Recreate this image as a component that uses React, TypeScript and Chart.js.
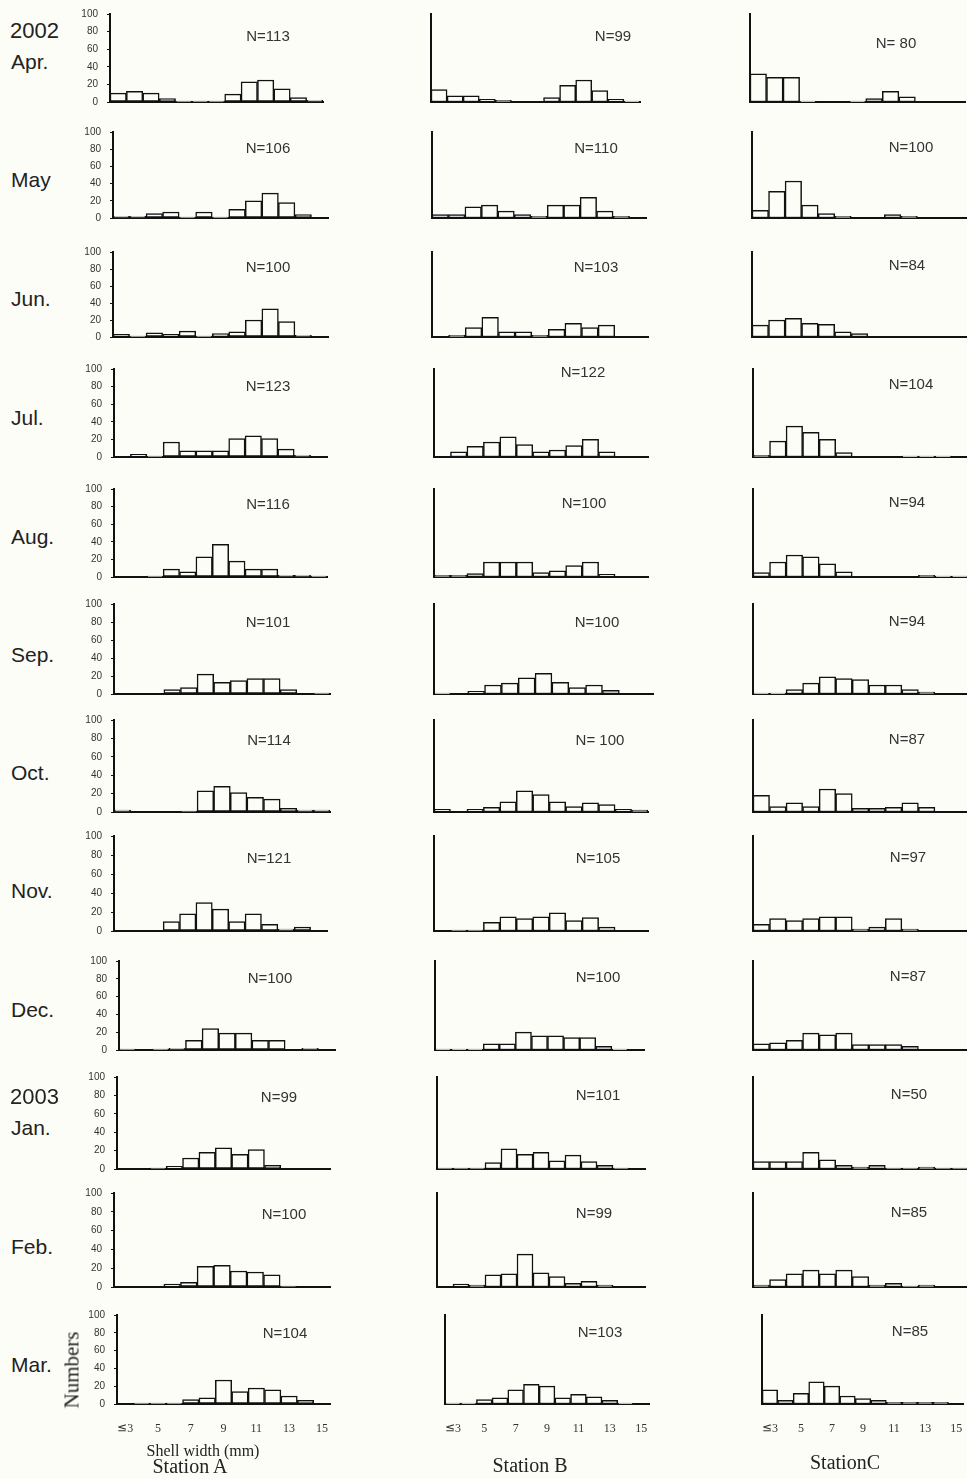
import React, { useEffect, useRef } from "react";
import { Chart, registerables } from "chart.js";

Chart.register(...registerables);

// ---- data ----
const sizeBins = ["≦3", "4", "5", "6", "7", "8", "9", "10", "11", "12", "13", "14", "15"];
const shownSizeTicks = ["≦3", "5", "7", "9", "11", "13", "15"];
const monthLabels = ["Apr.", "May", "Jun.", "Jul.", "Aug.", "Sep.", "Oct.", "Nov.", "Dec.", "Jan.", "Feb.", "Mar."];
const yearLabels = ["2002", "", "", "", "", "", "", "", "", "2003", "", ""];
const stationNames = ["Station A", "Station B", "StationC"];

const stationA = [
  [10, 12, 10, 4, 1, 1, 1, 9, 23, 25, 15, 5, 2],
  [2, 2, 5, 7, 1, 7, 1, 10, 20, 29, 18, 4, 0],
  [3, 1, 5, 3, 7, 1, 4, 6, 20, 33, 18, 2, 0],
  [0, 3, 1, 17, 7, 7, 7, 21, 24, 21, 9, 2, 0],
  [0, 0, 1, 9, 6, 23, 37, 18, 9, 9, 2, 2, 1],
  [0, 0, 0, 5, 7, 22, 13, 15, 17, 17, 5, 0, 1],
  [2, 0, 0, 0, 1, 23, 28, 21, 16, 14, 4, 2, 2],
  [0, 0, 0, 10, 18, 30, 23, 10, 18, 7, 2, 4, 0],
  [1, 0, 1, 2, 11, 24, 19, 19, 11, 11, 0, 2, 0],
  [0, 0, 1, 3, 12, 18, 23, 16, 21, 4, 0, 0, 0],
  [0, 0, 0, 3, 5, 22, 23, 17, 16, 13, 1, 0, 0],
  [0, 1, 1, 1, 5, 7, 27, 14, 18, 16, 9, 4, 0],
];
const stationB = [
  [14, 7, 7, 3, 2, 0, 0, 5, 19, 25, 13, 3, 1],
  [4, 4, 13, 15, 8, 4, 2, 15, 15, 24, 8, 2, 0],
  [0, 2, 11, 23, 6, 6, 2, 9, 16, 11, 14, 0, 0],
  [0, 6, 12, 17, 23, 14, 6, 8, 13, 20, 6, 0, 0],
  [2, 2, 4, 17, 17, 17, 5, 7, 13, 17, 3, 0, 0],
  [1, 0, 3, 10, 12, 18, 23, 13, 7, 10, 4, 0, 0],
  [3, 0, 3, 5, 11, 23, 19, 11, 6, 10, 8, 3, 2],
  [0, 1, 1, 9, 15, 13, 15, 19, 11, 14, 4, 0, 0],
  [1, 1, 1, 7, 7, 20, 16, 16, 14, 14, 4, 1, 0],
  [1, 1, 1, 7, 22, 16, 18, 9, 15, 8, 4, 1, 0],
  [0, 3, 2, 13, 14, 35, 15, 11, 4, 6, 2, 0, 0],
  [1, 1, 5, 7, 16, 22, 20, 7, 11, 8, 4, 1, 0],
];
const stationC = [
  [32, 28, 28, 1, 0, 0, 1, 4, 12, 6, 0, 0, 0],
  [9, 31, 43, 15, 5, 2, 0, 0, 4, 2, 0, 0, 0],
  [14, 20, 22, 16, 15, 6, 4, 0, 0, 0, 0, 0, 0],
  [2, 18, 35, 28, 20, 5, 0, 0, 0, 1, 1, 1, 0],
  [5, 17, 25, 23, 15, 6, 0, 0, 0, 0, 2, 1, 1],
  [1, 1, 5, 12, 19, 17, 16, 10, 10, 5, 2, 0, 0],
  [18, 6, 10, 6, 25, 20, 4, 4, 5, 10, 5, 0, 0],
  [7, 13, 11, 13, 15, 15, 2, 4, 13, 2, 0, 0, 0],
  [7, 8, 11, 19, 17, 19, 6, 6, 6, 4, 0, 0, 0],
  [8, 8, 8, 18, 10, 4, 2, 4, 1, 1, 2, 1, 1],
  [2, 8, 14, 18, 14, 18, 11, 2, 4, 1, 2, 0, 0],
  [16, 4, 12, 25, 20, 9, 6, 4, 2, 2, 2, 2, 0],
];
const nA = ["N=113", "N=106", "N=100", "N=123", "N=116", "N=101", "N=114", "N=121", "N=100", "N=99", "N=100", "N=104"];
const nB = ["N=99", "N=110", "N=103", "N=122", "N=100", "N=100", "N= 100", "N=105", "N=100", "N=101", "N=99", "N=103"];
const nC = ["N= 80", "N=100", "N=84", "N=104", "N=94", "N=94", "N=87", "N=97", "N=87", "N=50", "N=85", "N=85"];

// ---- layout (pixel positions of each panel) ----
const rowTop = [14, 132, 252, 369, 489, 604, 720, 836, 961, 1077, 1193, 1315];
const rowBase = [102, 218, 337, 457, 577, 694, 812, 931, 1050, 1169, 1287, 1404];
const aLeft = [110, 113, 113, 114, 114, 114, 114, 114, 119, 117, 114, 117];
const aRight = [323, 328, 328, 327, 327, 330, 330, 327, 335, 330, 330, 335];
const bLeft = [431, 432, 432, 434, 434, 434, 434, 434, 435, 437, 437, 437];
const bRight = [640, 646, 648, 648, 648, 653, 648, 648, 644, 645, 645, 654];
const cLeft = [750, 752, 752, 753, 753, 753, 753, 753, 753, 753, 753, 754];
const cRight = [965, 967, 967, 968, 968, 968, 968, 968, 968, 968, 968, 969];

const nAx = [268, 268, 268, 268, 268, 268, 269, 269, 270, 279, 284, 285];
const nAy = [35, 147, 266, 385, 503, 621, 739, 857, 977, 1096, 1213, 1332];
const nBx = [613, 596, 596, 583, 584, 597, 600, 598, 598, 598, 594, 600];
const nBy = [35, 147, 266, 371, 502, 621, 739, 857, 976, 1094, 1212, 1331];
const nCx = [896, 911, 907, 911, 907, 907, 907, 908, 908, 909, 909, 910];
const nCy = [42, 146, 264, 383, 501, 620, 738, 856, 975, 1093, 1211, 1330];
const monthY = [62, 180, 299, 418, 537, 655, 773, 891, 1010, 1128, 1247, 1365];
const yearY = [31, 0, 0, 0, 0, 0, 0, 0, 0, 1097, 0, 0];

const INK = "#111111";
const BG = "#fdfdf8";

type HistProps = {
  values: number[];
  left: number;
  right: number;
  top: number;
  base: number;
  yTicks: boolean;
  xTicks: boolean;
};

function Histogram({ values, left, right, top, base, yTicks, xTicks }: HistProps) {
  const ref = useRef<HTMLCanvasElement>(null);
  const yW = yTicks ? 40 : 2;
  const padTop = 18;
  const padRight = 3;
  const padBottom = xTicks ? 0 : 16;
  const xH = xTicks ? 28 : 2;
  const w = yW + (right - left) + padRight;
  const h = padTop + (base - top) + xH + padBottom;

  useEffect(() => {
    const chart = new Chart(ref.current as HTMLCanvasElement, {
      type: "bar",
      data: {
        labels: sizeBins,
        datasets: [
          {
            data: values,
            backgroundColor: BG,
            borderColor: INK,
            borderWidth: 1.5,
            borderSkipped: false,
            barPercentage: 1,
            categoryPercentage: 1,
          },
        ],
      },
      options: {
        animation: false,
        responsive: false,
        maintainAspectRatio: false,
        layout: { padding: { top: padTop, right: padRight, left: 0, bottom: padBottom } },
        plugins: { legend: { display: false }, tooltip: { enabled: false } },
        scales: {
          x: {
            grid: { display: false },
            border: { display: true, color: INK, width: 2 },
            ticks: {
              display: xTicks,
              autoSkip: false,
              maxRotation: 0,
              padding: 10,
              color: "#333",
              font: { family: "'Liberation Serif', serif", size: 12 },
              callback: (_v: any, i: number) =>
                shownSizeTicks.includes(sizeBins[i]) ? sizeBins[i] : "",
            },
            afterFit: (s: any) => {
              s.height = xH;
            },
          },
          y: {
            min: 0,
            max: 100,
            grid: {
              display: yTicks,
              drawOnChartArea: false,
              drawTicks: true,
              tickLength: 3,
              color: INK,
            },
            border: { display: true, color: INK, width: 2 },
            ticks: {
              display: yTicks,
              stepSize: 20,
              padding: 9,
              color: "#333",
              font: { family: "'Liberation Sans', sans-serif", size: 10 },
            },
            afterFit: (s: any) => {
              s.width = yW;
            },
          },
        },
      },
    } as any);
    return () => chart.destroy();
  }, []);

  return (
    <canvas
      ref={ref}
      width={w}
      height={h}
      style={{ position: "absolute", left: left - yW, top: top - padTop, width: w, height: h, display: "block" }}
    />
  );
}

const centered = (x: number, y: number, extra: React.CSSProperties = {}): React.CSSProperties => ({
  position: "absolute",
  left: x,
  top: y,
  transform: "translate(-50%, -50%)",
  whiteSpace: "pre",
  lineHeight: 1,
  ...extra,
});

export default function App() {
  const sans = "'Liberation Sans', Arial, sans-serif";
  const serif = "'Liberation Serif', 'Times New Roman', serif";
  const last = monthLabels.length - 1;
  return (
    <div
      style={{
        position: "absolute",
        left: 0,
        top: 0,
        width: 967,
        height: 1479,
        overflow: "hidden",
        background: BG,
      }}
    >
      {monthLabels.map((_, r) => (
        <React.Fragment key={"row" + r}>
          <Histogram values={stationA[r]} left={aLeft[r]} right={aRight[r]} top={rowTop[r]} base={rowBase[r]} yTicks={true} xTicks={r === last} />
          <Histogram values={stationB[r]} left={bLeft[r]} right={bRight[r]} top={rowTop[r]} base={rowBase[r]} yTicks={false} xTicks={r === last} />
          <Histogram values={stationC[r]} left={cLeft[r]} right={cRight[r]} top={rowTop[r]} base={rowBase[r]} yTicks={false} xTicks={r === last} />
        </React.Fragment>
      ))}

      {monthLabels.map((m, r) => (
        <div key={"m" + r} style={{ position: "absolute", left: 11, top: monthY[r] - 12, fontFamily: sans, fontSize: 21, color: "#222", lineHeight: "24px" }}>
          {m}
        </div>
      ))}
      {yearLabels.map((y, r) =>
        y ? (
          <div key={"y" + r} style={{ position: "absolute", left: 10, top: yearY[r] - 12, fontFamily: sans, fontSize: 22, color: "#222", lineHeight: "24px" }}>
            {y}
          </div>
        ) : null
      )}

      {monthLabels.map((_, r) => (
        <React.Fragment key={"n" + r}>
          <div style={centered(nAx[r], nAy[r], { fontFamily: sans, fontSize: 15, color: "#333" })}>{nA[r]}</div>
          <div style={centered(nBx[r], nBy[r], { fontFamily: sans, fontSize: 15, color: "#333" })}>{nB[r]}</div>
          <div style={centered(nCx[r], nCy[r], { fontFamily: sans, fontSize: 15, color: "#333" })}>{nC[r]}</div>
        </React.Fragment>
      ))}

      <div style={centered(72, 1370, { fontFamily: serif, fontSize: 21, color: "#222", transform: "translate(-50%, -50%) rotate(-90deg)" })}>
        Numbers
      </div>
      <div style={centered(203, 1451, { fontFamily: serif, fontSize: 16, color: "#222" })}>Shell width (mm)</div>
      <div style={centered(190, 1466, { fontFamily: serif, fontSize: 20, color: "#222" })}>{stationNames[0]}</div>
      <div style={centered(530, 1465, { fontFamily: serif, fontSize: 20, color: "#222" })}>{stationNames[1]}</div>
      <div style={centered(845, 1462, { fontFamily: serif, fontSize: 20, color: "#222" })}>{stationNames[2]}</div>
    </div>
  );
}
